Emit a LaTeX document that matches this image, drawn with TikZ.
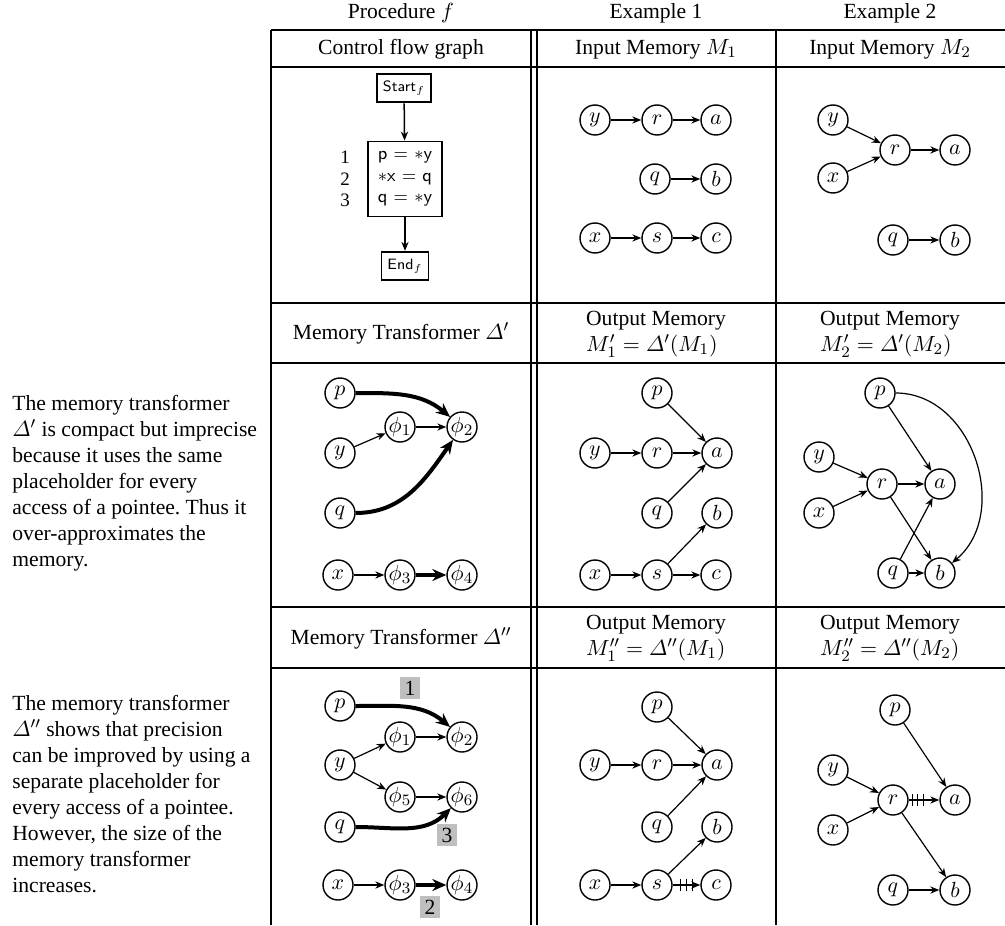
\documentclass[tikz,border=0pt]{standalone}
\usepackage{amsmath}
\usepackage{fontspec}
\setmainfont{Liberation Serif}
\usetikzlibrary{arrows.meta,decorations.markings}
\frenchspacing
\begin{document}
\begin{tikzpicture}[x=0.5pt,y=-0.5pt,
  every node/.style={font=\fontsize{10.8}{13}\selectfont},
  mem/.style={circle,draw,line width=0.7pt,minimum size=15pt,inner sep=0pt},
  link/.style={-{Stealth[length=4.5pt,width=3.6pt]},line width=0.6pt},
  heavy/.style={-{Stealth[length=7pt,width=6pt]},line width=2pt},
  rule/.style={line width=1pt},
  cfgbox/.style={draw,line width=0.9pt,inner xsep=3pt,inner ysep=3.5pt,
    font=\sffamily\fontsize{7.5}{8.5}\selectfont},
  numtag/.style={fill=black!25,inner sep=0pt,minimum width=10pt,minimum height=11pt},
  para/.style={anchor=north west,align=left,inner sep=0pt},
  hatchfar/.style={postaction={decorate},decoration={markings,
    mark=at position 4pt with {\draw[-,line width=0.5pt] (0,-3pt) -- (0,3pt);},
    mark=at position 6.9pt with {\draw[-,line width=0.5pt] (0,-3pt) -- (0,3pt);},
    mark=at position 9.8pt with {\draw[-,line width=0.5pt] (0,-3pt) -- (0,3pt);}}},
  hatchnear/.style={postaction={decorate},decoration={markings,
    mark=at position 2pt with {\draw[-,line width=0.5pt] (0,-3pt) -- (0,3pt);},
    mark=at position 4.6pt with {\draw[-,line width=0.5pt] (0,-3pt) -- (0,3pt);},
    mark=at position 7.2pt with {\draw[-,line width=0.5pt] (0,-3pt) -- (0,3pt);}}}
]
\useasboundingbox (0,0) rectangle (1005,925);

% table rules
\foreach \yy in {30,67,303,363,607,668}
  \draw[rule] (271,\yy) -- (1005,\yy);
\foreach \xx in {271,531,537,776}
  \draw[rule] (\xx,30) -- (\xx,925);

% column titles
\node (hproc) at (401,13) {Procedure $f$};
\node (hex1) at (656,13) {Example 1};
\node (hex2) at (890,13) {Example 2};

% first header row
\node (hcfg) at (401,49) {Control flow graph};
\node (hin1) at (656,49) {Input Memory $M_1$};
\node (hin2) at (890,49) {Input Memory $M_2$};

% second header row
\node (hdelta1) at (401,333) {Memory Transformer $\varDelta'$};
\node[align=left] (hout1) at (656,334) {Output Memory\\$M_1' = \varDelta'(M_1)$};
\node[align=left] (hout2) at (890,334) {Output Memory\\$M_2' = \varDelta'(M_2)$};

% third header row
\node (hdelta2) at (401,638) {Memory Transformer $\varDelta''$};
\node[align=left] (hout3) at (656,638) {Output Memory\\$M_1'' = \varDelta''(M_1)$};
\node[align=left] (hout4) at (890,638) {Output Memory\\$M_2'' = \varDelta''(M_2)$};

% side remarks
\node[para] (rem1) at (12,395) {The memory transformer\\
$\varDelta'$ is compact but imprecise\\
because it uses the same\\
placeholder for every\\
access of a pointee. Thus it\\
over-approximates the\\
memory.};
\node[para] (rem2) at (12,695) {The memory transformer\\
$\varDelta''$ shows that precision\\
can be improved by using a\\
separate placeholder for\\
every access of a pointee.\\
However, the size of the\\
memory transformer\\
increases.};

% control flow graph
\node[cfgbox] (start) at (404,88) {Start$_f$};
\node[cfgbox,align=left,inner xsep=5pt,inner ysep=5pt,
  font=\sffamily\fontsize{9}{10.75}\selectfont] (body) at (405,179)
  {p = $\ast$y\\$\ast$x = q\\q = $\ast$y};
\node[align=center,font=\fontsize{9.5}{10.75}\selectfont] (lines) at (345,179) {1\\2\\3};
\node[cfgbox] (end) at (405,266) {End$_f$};
\draw[link,line width=0.75pt] (start) -- (body);
\draw[link,line width=0.75pt] (body) -- (end);

% input memory M1
\node[mem] (iay) at (595,120) {$y$};
\node[mem] (iar) at (657,120) {$r$};
\node[mem] (iaa) at (716,120) {$a$};
\node[mem] (iaq) at (655,179) {$q$};
\node[mem] (iab) at (716,179) {$b$};
\node[mem] (iax) at (595,238) {$x$};
\node[mem] (ias) at (657,238) {$s$};
\node[mem] (iac) at (716,238) {$c$};
\draw[link] (iay) -- (iar);
\draw[link] (iar) -- (iaa);
\draw[link] (iaq) -- (iab);
\draw[link] (iax) -- (ias);
\draw[link] (ias) -- (iac);

% input memory M2
\node[mem] (iby) at (833,120) {$y$};
\node[mem] (ibx) at (833,178) {$x$};
\node[mem] (ibr) at (895,150) {$r$};
\node[mem] (iba) at (955,150) {$a$};
\node[mem] (ibq) at (893,240) {$q$};
\node[mem] (ibb) at (955,240) {$b$};
\draw[link] (iby) -- (ibr);
\draw[link] (ibx) -- (ibr);
\draw[link] (ibr) -- (iba);
\draw[link] (ibq) -- (ibb);

% memory transformer Delta'
\node[mem] (dp) at (340,393) {$p$};
\node[mem] (dy) at (340,453) {$y$};
\node[mem] (dq) at (340,513) {$q$};
\node[mem] (dx) at (338,575) {$x$};
\node[mem] (df1) at (400,427) {$\phi_1$};
\node[mem] (df2) at (462,427) {$\phi_2$};
\node[mem] (df3) at (400,575) {$\phi_3$};
\node[mem] (df4) at (462,575) {$\phi_4$};
\draw[heavy] (dp) to[out=0,in=140] (df2);
\draw[link] (dy) -- (df1);
\draw[link] (df1) -- (df2);
\draw[heavy] (dq) to[out=0,in=235] (df2);
\draw[link] (dx) -- (df3);
\draw[heavy] (df3) -- (df4);

% output memory M1'
\node[mem] (oap) at (657,393) {$p$};
\node[mem] (oay) at (595,453) {$y$};
\node[mem] (oar) at (657,453) {$r$};
\node[mem] (oaa) at (717,453) {$a$};
\node[mem] (oaq) at (657,513) {$q$};
\node[mem] (oab) at (717,513) {$b$};
\node[mem] (oax) at (595,575) {$x$};
\node[mem] (oas) at (657,575) {$s$};
\node[mem] (oac) at (716,575) {$c$};
\draw[link] (oap) -- (oaa);
\draw[link] (oay) -- (oar);
\draw[link] (oar) -- (oaa);
\draw[link] (oaq) -- (oaa);
\draw[link] (oas) -- (oab);
\draw[link] (oax) -- (oas);
\draw[link] (oas) -- (oac);

% output memory M2'
\node[mem] (obp) at (880,393) {$p$};
\node[mem] (oby) at (819,457) {$y$};
\node[mem] (obx) at (819,513) {$x$};
\node[mem] (obr) at (882,484) {$r$};
\node[mem] (oba) at (940,484) {$a$};
\node[mem] (obq) at (893,573) {$q$};
\node[mem] (obb) at (940,573) {$b$};
\draw[link] (obp) -- (oba);
\draw[link] (oby) -- (obr);
\draw[link] (obx) -- (obr);
\draw[link] (obr) -- (oba);
\draw[link] (obr) -- (obb);
\draw[link] (obq) -- (oba);
\draw[link] (obq) -- (obb);
\draw[link] (obp) to[out=0,in=40,looseness=1.1] (obb);

% memory transformer Delta''
\node[mem] (ep) at (340,706) {$p$};
\node[mem] (ey) at (340,765) {$y$};
\node[mem] (eq) at (340,827) {$q$};
\node[mem] (ex) at (338,885) {$x$};
\node[mem] (ef1) at (400,737) {$\phi_1$};
\node[mem] (ef2) at (462,737) {$\phi_2$};
\node[mem] (ef5) at (400,797) {$\phi_5$};
\node[mem] (ef6) at (462,797) {$\phi_6$};
\node[mem] (ef3) at (400,885) {$\phi_3$};
\node[mem] (ef4) at (462,885) {$\phi_4$};
\draw[heavy] (ep) to[out=0,in=140] (ef2);
\draw[link] (ey) -- (ef1);
\draw[link] (ef1) -- (ef2);
\draw[link] (ey) -- (ef5);
\draw[link] (ef5) -- (ef6);
\draw[heavy] (eq) to[out=0,in=225] (ef6);
\draw[link] (ex) -- (ef3);
\draw[heavy] (ef3) -- (ef4);
\node[numtag] (tg1) at (410,688) {1};
\node[numtag] (tg3) at (447,835) {3};
\node[numtag] (tg2) at (430,907) {2};

% output memory M1''
\node[mem] (ocp) at (657,707) {$p$};
\node[mem] (ocy) at (595,765) {$y$};
\node[mem] (ocr) at (657,765) {$r$};
\node[mem] (oca) at (717,765) {$a$};
\node[mem] (ocq) at (657,827) {$q$};
\node[mem] (ocb) at (717,827) {$b$};
\node[mem] (ocx) at (595,885) {$x$};
\node[mem] (ocs) at (657,885) {$s$};
\node[mem] (occ) at (716,885) {$c$};
\draw[link] (ocp) -- (oca);
\draw[link] (ocy) -- (ocr);
\draw[link] (ocr) -- (oca);
\draw[link] (ocq) -- (oca);
\draw[link] (ocs) -- (ocb);
\draw[link] (ocx) -- (ocs);
\draw[link,hatchfar] (ocs) -- (occ);

% output memory M2''
\node[mem] (odp) at (895,710) {$p$};
\node[mem] (ody) at (833,770) {$y$};
\node[mem] (odx) at (833,830) {$x$};
\node[mem] (odr) at (893,800) {$r$};
\node[mem] (oda) at (955,800) {$a$};
\node[mem] (odq) at (893,890) {$q$};
\node[mem] (odb) at (955,890) {$b$};
\draw[link] (odp) -- (oda);
\draw[link] (ody) -- (odr);
\draw[link] (odx) -- (odr);
\draw[link,hatchnear] (odr) -- (oda);
\draw[link] (odr) -- (odb);
\draw[link] (odq) -- (odb);
\end{tikzpicture}
\end{document}
